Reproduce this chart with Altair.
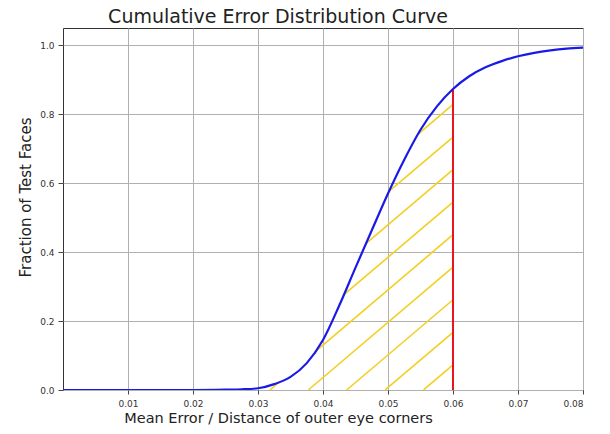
import altair as alt
import numpy as np
import pandas as pd

# CDF curve
curve_x = [0.0, 0.01, 0.02, 0.025, 0.0275, 0.03, 0.0325, 0.035, 0.0375, 0.04, 0.0425,
           0.045, 0.0475, 0.05, 0.0525, 0.055, 0.0575, 0.06, 0.0625, 0.065, 0.0675,
           0.07, 0.0725, 0.075, 0.0775, 0.08]
curve_y = [0.0, 0.0, 0.0, 0.001, 0.002, 0.005, 0.017, 0.038, 0.078, 0.145, 0.245,
           0.355, 0.463, 0.57, 0.668, 0.755, 0.822, 0.873, 0.91, 0.936, 0.954,
           0.968, 0.978, 0.985, 0.99, 0.993]
threshold = 0.06

x_ticks = [0.01, 0.02, 0.03, 0.04, 0.05, 0.06, 0.07, 0.08]
y_ticks = [0.0, 0.2, 0.4, 0.6, 0.8, 1.0]

# hatch pattern style
hatch_slope = 16.0
hatch_spacing = 0.0059
hatch_start = 0.05544

curve = pd.DataFrame({"x": curve_x, "y": curve_y})
thr_y = float(np.interp(threshold, curve_x, curve_y))
red = pd.DataFrame({"x": [threshold], "y": [0.0], "y2": [thr_y]})

xs = np.linspace(0, threshold, 3001)
cs = np.interp(xs, curve_x, curve_y)
segs = []
x0 = hatch_start
while x0 > threshold - 1.2 / hatch_slope:
    ly = hatch_slope * (xs - x0)
    inside = (ly >= 0) & (ly <= cs)
    i = 0
    n = len(xs)
    while i < n:
        if inside[i]:
            j = i
            while j + 1 < n and inside[j + 1]:
                j += 1
            if j - i > 3:
                segs.append({"x": xs[i], "y": ly[i], "x2": xs[j], "y2": ly[j]})
            i = j + 1
        else:
            i += 1
    x0 -= hatch_spacing
hatch = pd.DataFrame(segs)

xscale = alt.Scale(domain=[0, 0.08], nice=False, zero=False)
yscale = alt.Scale(domain=[0, 1.05], nice=False)

xaxis = alt.Axis(values=x_ticks, format=".2f", title="Mean Error / Distance of outer eye corners",
                 grid=True, gridColor="#b0b0b0", gridWidth=1, tickColor="#444", tickSize=4,
                 domain=False, labelFontSize=9, labelColor="#333", labelPadding=5,
                 titleFontSize=14.5, titleFontWeight="normal", titleColor="#222",
                 titleX=215, titleY=28, titleBaseline="middle", titleAnchor="middle")
yaxis = alt.Axis(values=y_ticks, format=".1f", title="Fraction of Test Faces",
                 grid=True, gridColor="#b0b0b0", gridWidth=1, tickColor="#444", tickSize=5,
                 domain=False, labelFontSize=9, labelColor="#333", labelPadding=4,
                 titleFontSize=15, titleFontWeight="normal", titleColor="#222",
                 titleX=-38, titleY=169, titleAngle=-90, titleBaseline="middle", titleAnchor="middle")

line = alt.Chart(curve).mark_line(color="#1a1ae6", strokeWidth=2.2, interpolate="monotone", clip=True).encode(
    x=alt.X("x:Q", scale=xscale, axis=xaxis),
    y=alt.Y("y:Q", scale=yscale, axis=yaxis),
)
hatch_layer = alt.Chart(hatch).mark_rule(color="#f3cf22", strokeWidth=1.6).encode(
    x=alt.X("x:Q", scale=xscale), y=alt.Y("y:Q", scale=yscale), x2="x2:Q", y2="y2:Q"
)
red_layer = alt.Chart(red).mark_rule(color="#e8161e", strokeWidth=2).encode(
    x=alt.X("x:Q", scale=xscale), y=alt.Y("y:Q", scale=yscale), y2="y2:Q"
)

chart = alt.layer(hatch_layer, red_layer, line).properties(
    width=520, height=362,
    title=alt.TitleParams("Cumulative Error Distribution Curve", fontSize=19, fontWeight="normal",
                          color="#222", anchor="middle", frame="group", dx=-45, offset=1),
    autosize=alt.AutoSizeParams(type="none"),
    padding={"left": 55, "top": 20, "right": 19, "bottom": 36},
).configure(font="DejaVu Sans").configure_view(stroke="#333", strokeWidth=1)

chart.save("out.html", embed_options={"renderer": "svg", "actions": False})
